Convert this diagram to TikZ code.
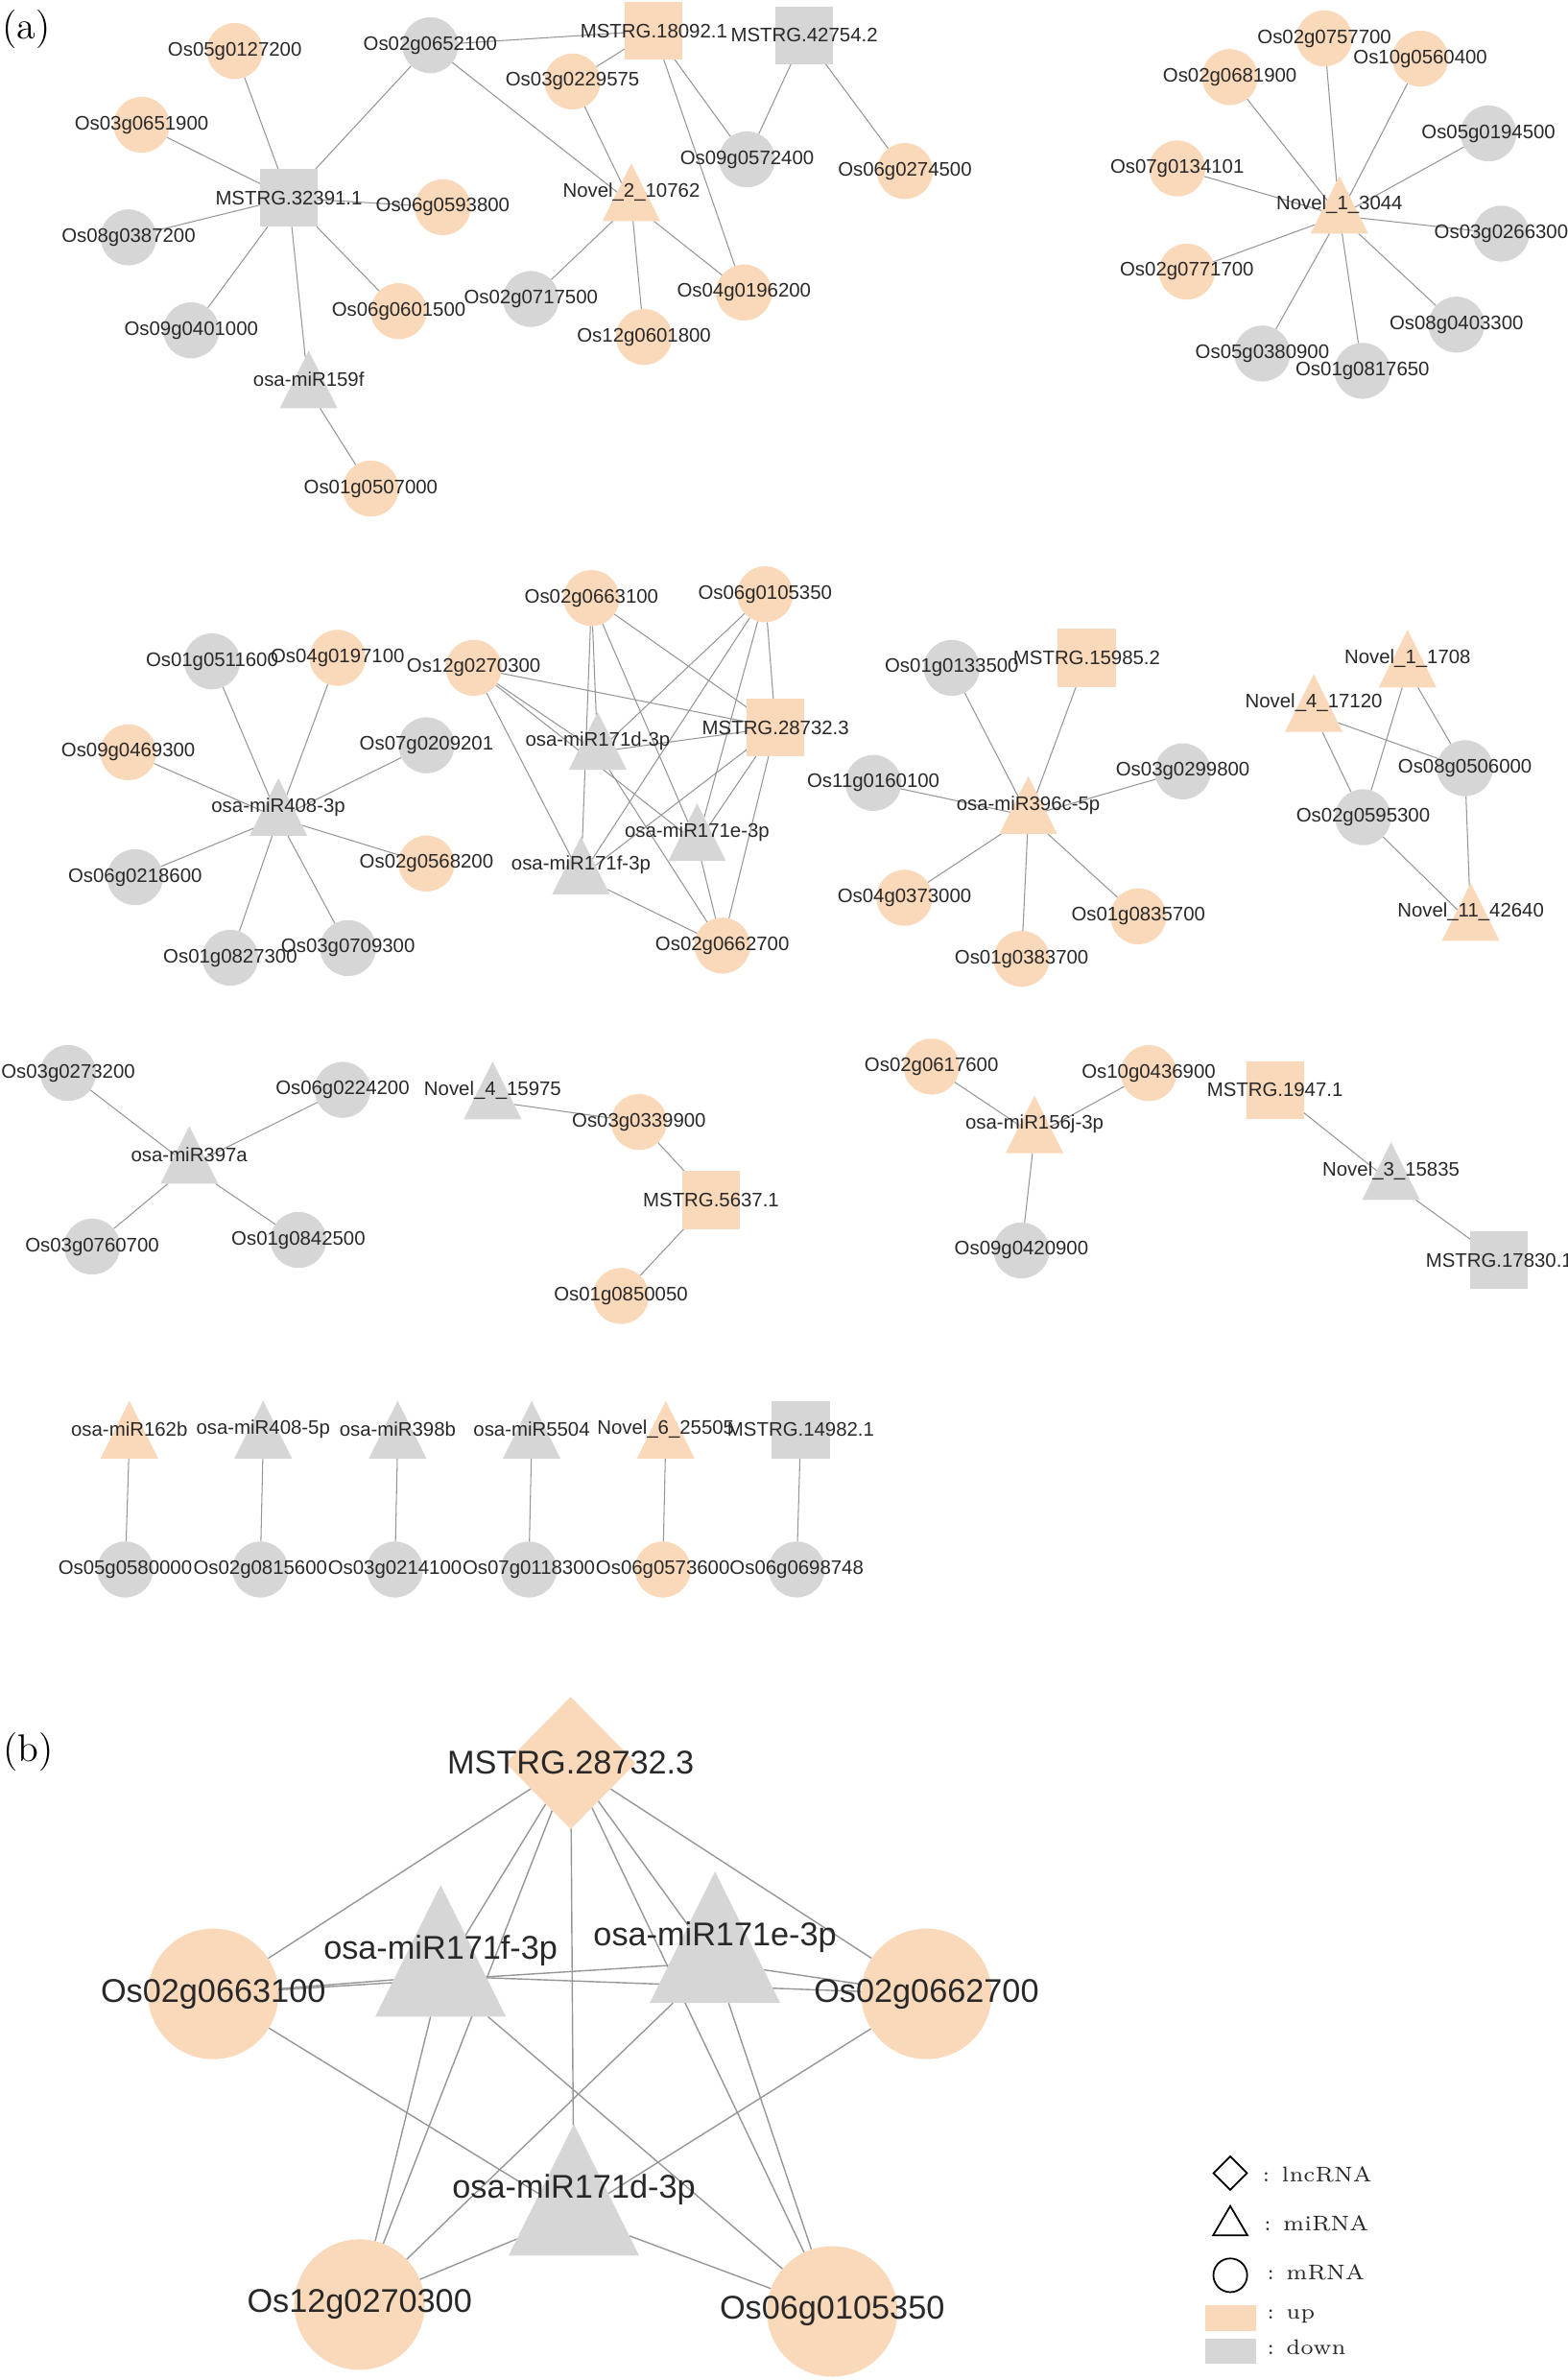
\documentclass[tikz,border=0pt]{standalone}
\usepackage{fontspec}
\setsansfont{Liberation Sans}
\usetikzlibrary{shapes.geometric}

\definecolor{upfill}{RGB}{250,216,186}
\definecolor{downfill}{RGB}{214,214,214}
\definecolor{linkgray}{RGB}{150,150,150}
\definecolor{labelgray}{RGB}{40,40,40}
\pgfdeclarelayer{back}
\pgfsetlayers{back,main}

\begin{document}
\begin{tikzpicture}[
  x=0.45pt, y=-0.45pt,
  every node/.style={inner sep=0pt, outer sep=0pt},
  every label/.style={font=\sffamily\fontsize{5.8}{6}\selectfont, text=labelgray},
  up/.style={fill=upfill},
  down/.style={fill=downfill},
  mrna/.style={circle, minimum size=16.6pt},
  lnc/.style={rectangle, minimum size=17.1pt},
  mirna/.style={isosceles triangle, shape border rotate=90, isosceles triangle stretches,
    minimum width=17.1pt, minimum height=17.1pt, yshift=-3.3pt},
  milabel/.style={label={[yshift=3.3pt]center:#1}},
  link/.style={draw=linkgray, line width=0.3pt},
  tag/.style={font=\fontsize{11.4}{12}\selectfont},
  keyshape/.style={draw=black, line width=0.5pt},
  keytext/.style={anchor=west, font=\fontsize{6.3}{7}\selectfont, text=labelgray}
]
\useasboundingbox (0,0) rectangle (1033,1568);

\node[tag] (taga) at (17.5,19) {(a)};
\node[tag] (tagb) at (18.5,1154) {(b)};

\node[lnc, down, label=center:MSTRG.32391.1] (m32391) at (190.3,130.4) {};
\node[lnc, up, label=center:MSTRG.18092.1] (m18092) at (430.8,20.3) {};
\node[lnc, down, label=center:MSTRG.42754.2] (m42754) at (529.9,23.2) {};
\node[mrna, up, label=center:Os05g0127200] (os05g0127200) at (154.7,33.6) {};
\node[mrna, down, label=center:Os02g0652100] (os02g0652100) at (283.5,29.8) {};
\node[mrna, up, label=center:Os03g0229575] (os03g0229575) at (377.2,53.7) {};
\node[mrna, up, label=center:Os03g0651900] (os03g0651900) at (93.3,82.2) {};
\node[mrna, down, label=center:Os09g0572400] (os09g0572400) at (492.2,105) {};
\node[mrna, up, label=center:Os06g0274500] (os06g0274500) at (596.2,112.7) {};
\node[mrna, up, label=center:Os06g0593800] (os06g0593800) at (291.7,136.5) {};
\node[mirna, up, milabel=Novel\_2\_10762] (n2x10762) at (416,126.6) {};
\node[mrna, down, label=center:Os08g0387200] (os08g0387200) at (84.7,156.4) {};
\node[mrna, down, label=center:Os02g0717500] (os02g0717500) at (349.8,197) {};
\node[mrna, up, label=center:Os04g0196200] (os04g0196200) at (490.2,192.7) {};
\node[mrna, up, label=center:Os06g0601500] (os06g0601500) at (262.7,205) {};
\node[mrna, down, label=center:Os09g0401000] (os09g0401000) at (126,217.6) {};
\node[mrna, up, label=center:Os12g0601800] (os12g0601800) at (424.3,222) {};
\node[mirna, down, milabel=osa-miR159f] (mir159f) at (203.4,249.9) {};
\node[mrna, up, label=center:Os01g0507000] (os01g0507000) at (244.3,321.9) {};

\node[mirna, up, milabel=Novel\_1\_3044] (n1x3044) at (882.5,134.8) {};
\node[mrna, up, label=center:Os02g0757700] (os02g0757700) at (872.6,25.3) {};
\node[mrna, up, label=center:Os10g0560400] (os10g0560400) at (935.8,38.6) {};
\node[mrna, up, label=center:Os02g0681900] (os02g0681900) at (810.3,50.8) {};
\node[mrna, down, label=center:Os05g0194500] (os05g0194500) at (980.7,87.9) {};
\node[mrna, up, label=center:Os07g0134101] (os07g0134101) at (775.6,111) {};
\node[mrna, down, label=center:Os03g0266300] (os03g0266300) at (989.1,153.9) {};
\node[mrna, up, label=center:Os02g0771700] (os02g0771700) at (782,178.9) {};
\node[mrna, down, label=center:Os08g0403300] (os08g0403300) at (959.6,213.9) {};
\node[mrna, down, label=center:Os05g0380900] (os05g0380900) at (831.7,232.9) {};
\node[mrna, down, label=center:Os01g0817650] (os01g0817650) at (897.7,244.3) {};

\node[mirna, down, milabel=osa-miR408-3p] (mir408p3) at (183.4,531.6) {};
\node[mrna, down, label=center:Os01g0511600] (os01g0511600) at (139.7,435.7) {};
\node[mrna, up, label=center:Os04g0197100] (os04g0197100) at (222.4,433.4) {};
\node[mrna, up, label=center:Os09g0469300] (os09g0469300) at (84.5,495.6) {};
\node[mrna, down, label=center:Os07g0209201] (os07g0209201) at (281,491) {};
\node[mrna, up, label=center:Os02g0568200] (os02g0568200) at (281,568.9) {};
\node[mrna, down, label=center:Os06g0218600] (os06g0218600) at (89,577.9) {};
\node[mrna, down, label=center:Os01g0827300] (os01g0827300) at (151.7,631) {};
\node[mrna, down, label=center:Os03g0709300] (os03g0709300) at (229.3,624.6) {};

\node[mrna, up, label=center:Os02g0663100] (os02g0663100) at (389.7,394) {};
\node[mrna, up, label=center:Os06g0105350] (os06g0105350) at (504.1,391.5) {};
\node[mrna, up, label=center:Os12g0270300] (os12g0270300) at (312.1,440) {};
\node[lnc, up, label=center:MSTRG.28732.3] (m28732) at (511,479.3) {};
\node[mirna, down, milabel=osa-miR171d-3p] (mir171d) at (393.8,488) {};
\node[mirna, down, milabel=osa-miR171e-3p] (mir171e) at (459.3,548.2) {};
\node[mirna, down, milabel=osa-miR171f-3p] (mir171f) at (382.8,570.1) {};
\node[mrna, up, label=center:Os02g0662700] (os02g0662700) at (475.9,623) {};

\node[mirna, up, milabel=osa-miR396c-5p] (mir396c) at (677.5,530.3) {};
\node[lnc, up, label=center:MSTRG.15985.2] (m15985) at (716,433.4) {};
\node[mrna, down, label=center:Os01g0133500] (os01g0133500) at (627.1,440) {};
\node[mrna, down, label=center:Os11g0160100] (os11g0160100) at (575.4,515.8) {};
\node[mrna, down, label=center:Os03g0299800] (os03g0299800) at (779.3,508.2) {};
\node[mrna, up, label=center:Os04g0373000] (os04g0373000) at (595.9,591.5) {};
\node[mrna, up, label=center:Os01g0835700] (os01g0835700) at (750,603.7) {};
\node[mrna, up, label=center:Os01g0383700] (os01g0383700) at (673.1,631.7) {};

\node[mirna, up, milabel=Novel\_1\_1708] (n1x1708) at (927.4,433.8) {};
\node[mirna, up, milabel=Novel\_4\_17120] (n4x17120) at (865.6,463.1) {};
\node[mrna, down, label=center:Os08g0506000] (os08g0506000) at (965.2,506.1) {};
\node[mrna, down, label=center:Os02g0595300] (os02g0595300) at (898.1,538.4) {};
\node[mirna, up, milabel=Novel\_11\_42640] (n11x42640) at (969,600.7) {};

\node[mirna, down, milabel=osa-miR397a] (mir397a) at (124.7,760.8) {};
\node[mrna, down, label=center:Os03g0273200] (os03g0273200) at (44.9,706.9) {};
\node[mrna, down, label=center:Os06g0224200] (os06g0224200) at (225.7,718) {};
\node[mrna, down, label=center:Os03g0760700] (os03g0760700) at (60.7,821.3) {};
\node[mrna, down, label=center:Os01g0842500] (os01g0842500) at (196.6,816.9) {};
\node[mirna, down, milabel=Novel\_4\_15975] (n4x15975) at (324.6,718.3) {};
\node[mrna, up, label=center:Os03g0339900] (os03g0339900) at (421,739.2) {};
\node[lnc, up, label=center:MSTRG.5637.1] (m5637) at (468.5,790.6) {};
\node[mrna, up, label=center:Os01g0850050] (os01g0850050) at (409.1,853.8) {};
\node[mirna, up, milabel=osa-miR156j-3p] (mir156j) at (681.6,740.7) {};
\node[mrna, up, label=center:Os02g0617600] (os02g0617600) at (613.7,702.7) {};
\node[mrna, up, label=center:Os10g0436900] (os10g0436900) at (756.8,707) {};
\node[mrna, down, label=center:Os09g0420900] (os09g0420900) at (673,823.8) {};
\node[lnc, up, label=center:MSTRG.1947.1] (m1947) at (840,718) {};
\node[mirna, down, milabel=Novel\_3\_15835] (n3x15835) at (916.5,771.4) {};
\node[lnc, down, label=center:MSTRG.17830.1] (m17830) at (987.8,830.2) {};

\node[mirna, up, milabel=osa-miR162b] (mir162b) at (85.2,941.8) {};
\node[mirna, down, milabel=osa-miR408-5p] (mir408p5) at (173.4,941.8) {};
\node[mirna, down, milabel=osa-miR398b] (mir398b) at (262,941.8) {};
\node[mirna, down, milabel=osa-miR5504] (mir5504) at (350.3,941.8) {};
\node[mirna, up, milabel=Novel\_6\_25505] (n6x25505) at (438.6,941.8) {};
\node[lnc, down, label=center:MSTRG.14982.1] (m14982) at (527.6,941.8) {};
\node[mrna, down, label=center:Os05g0580000] (os05g0580000) at (82.5,1034) {};
\node[mrna, down, label=center:Os02g0815600] (os02g0815600) at (171.5,1034) {};
\node[mrna, down, label=center:Os03g0214100] (os03g0214100) at (260.2,1034) {};
\node[mrna, down, label=center:Os07g0118300] (os07g0118300) at (348.4,1034) {};
\node[mrna, up, label=center:Os06g0573600] (os06g0573600) at (436.7,1034) {};
\node[mrna, down, label=center:Os06g0698748] (os06g0698748) at (524.9,1034) {};

\begin{pgfonlayer}{back}
\foreach \a/\b in {m32391/os05g0127200, m32391/os03g0651900, m32391/os08g0387200,
    m32391/os09g0401000, m32391/mir159f, m32391/os06g0601500, m32391/os06g0593800,
    m32391/os02g0652100, mir159f/os01g0507000, os02g0652100/m18092,
    os02g0652100/n2x10762, os03g0229575/m18092, os03g0229575/n2x10762,
    m18092/os09g0572400, m18092/os04g0196200, m42754/os09g0572400,
    m42754/os06g0274500, n2x10762/os02g0717500, n2x10762/os12g0601800,
    n2x10762/os04g0196200}
  \draw[link] (\a) -- (\b);
\foreach \g in {os02g0757700, os10g0560400, os02g0681900, os05g0194500, os07g0134101,
    os03g0266300, os02g0771700, os08g0403300, os05g0380900, os01g0817650}
  \draw[link] (n1x3044) -- (\g);
\foreach \g in {os01g0511600, os04g0197100, os09g0469300, os07g0209201, os02g0568200,
    os06g0218600, os01g0827300, os03g0709300}
  \draw[link] (mir408p3) -- (\g);
\foreach \m in {mir171d, mir171e, mir171f} {
  \foreach \g in {os02g0663100, os06g0105350, os12g0270300, os02g0662700}
    \draw[link] (\m) -- (\g);
  \draw[link] (m28732) -- (\m);
}
\foreach \g in {os02g0663100, os06g0105350, os12g0270300, os02g0662700}
  \draw[link] (m28732) -- (\g);
\foreach \g in {m15985, os01g0133500, os11g0160100, os03g0299800, os04g0373000,
    os01g0835700, os01g0383700}
  \draw[link] (mir396c) -- (\g);
\foreach \a/\b in {n4x17120/os08g0506000, n4x17120/os02g0595300, n1x1708/os02g0595300,
    n1x1708/os08g0506000, os08g0506000/n11x42640, os02g0595300/n11x42640,
    mir397a/os03g0273200, mir397a/os06g0224200, mir397a/os03g0760700,
    mir397a/os01g0842500, n4x15975/os03g0339900, os03g0339900/m5637,
    m5637/os01g0850050, mir156j/os02g0617600, mir156j/os10g0436900,
    mir156j/os09g0420900, m1947/n3x15835, n3x15835/m17830,
    mir162b/os05g0580000, mir408p5/os02g0815600, mir398b/os03g0214100,
    mir5504/os07g0118300, n6x25505/os06g0573600, m14982/os06g0698748}
  \draw[link] (\a) -- (\b);
\end{pgfonlayer}

\begin{scope}[
  every label/.style={font=\sffamily\fontsize{9.75}{10}\selectfont, text=labelgray},
  mrna/.style={circle, minimum size=38.7pt},
  lnc/.style={diamond, minimum width=38.7pt, minimum height=39.2pt},
  mirna/.style={isosceles triangle, shape border rotate=90, isosceles triangle stretches,
    minimum width=38.7pt, minimum height=39pt, yshift=-7.5pt},
  milabel/.style={label={[yshift=7.5pt]center:#1}},
  link/.style={draw=linkgray, line width=0.4pt}
]
\node[lnc, up, label=center:MSTRG.28732.3] (bm28732) at (376,1161.5) {};
\node[mirna, down, milabel=osa-miR171f-3p] (bmir171f) at (290.3,1285.2) {};
\node[mirna, down, milabel=osa-miR171e-3p] (bmir171e) at (471.1,1276.3) {};
\node[mrna, up, label=center:Os02g0663100] (bos02g0663100) at (140.5,1313.6) {};
\node[mrna, up, label=center:Os02g0662700] (bos02g0662700) at (610.4,1313.6) {};
\node[mirna, down, milabel=osa-miR171d-3p] (bmir171d) at (378.1,1442.7) {};
\node[mrna, up, label=center:Os12g0270300] (bos12g0270300) at (236.9,1518.3) {};
\node[mrna, up, label=center:Os06g0105350] (bos06g0105350) at (548.3,1522.8) {};

\begin{pgfonlayer}{back}
\foreach \m in {bmir171d, bmir171e, bmir171f} {
  \foreach \g in {bos02g0663100, bos06g0105350, bos12g0270300, bos02g0662700}
    \draw[link] (\m) -- (\g);
  \draw[link] (bm28732) -- (\m);
}
\foreach \g in {bos02g0663100, bos06g0105350, bos12g0270300, bos02g0662700}
  \draw[link] (bm28732) -- (\g);
\end{pgfonlayer}
\end{scope}

\node[diamond, keyshape, minimum width=9.9pt, minimum height=9.9pt] (keylnc) at (810.6,1431.7) {};
\node[keytext] (keylnctext) at (831.8,1432.8) {: lncRNA};
\node[isosceles triangle, shape border rotate=90, isosceles triangle stretches, keyshape,
  minimum width=10.2pt, minimum height=8.7pt, yshift=-1.4pt] (keymi) at (810.6,1463.1) {};
\node[keytext] (keymitext) at (832.7,1464.8) {: miRNA};
\node[circle, keyshape, minimum size=10pt] (keym) at (810.6,1499) {};
\node[keytext] (keymtext) at (834.8,1497) {: mRNA};
\node[rectangle, up, minimum width=15pt, minimum height=7.6pt] (keyup) at (811,1527) {};
\node[keytext] (keyuptext) at (834.8,1526) {: up};
\node[rectangle, down, minimum width=15pt, minimum height=7.6pt] (keydown) at (811,1549.1) {};
\node[keytext] (keydowntext) at (834.8,1546.5) {: down};
\end{tikzpicture}
\end{document}
